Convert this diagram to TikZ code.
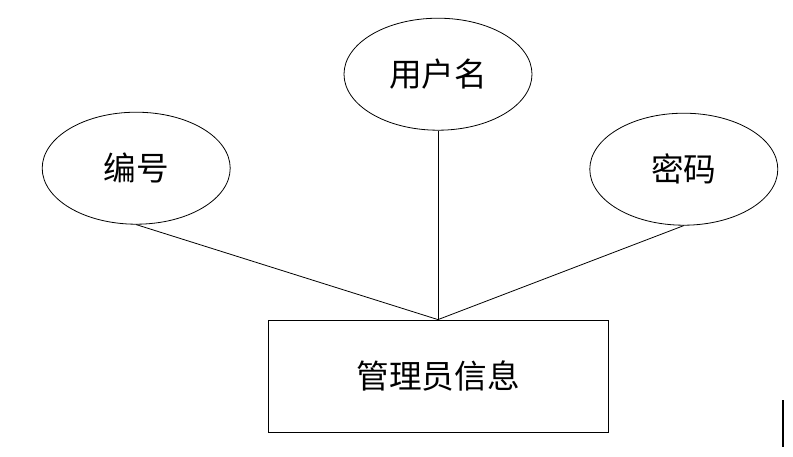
\documentclass[tikz,border=0pt]{standalone}
\usepackage{fontspec}
\newfontfamily\cjk{Noto Sans CJK SC}
\usepackage{tikz}
\usetikzlibrary{shapes.geometric, positioning}

\begin{document}
\begin{tikzpicture}[
    x=0.75pt, y=0.75pt,
    every node/.style={font=\cjk\fontsize{24.5}{27}\selectfont, align=center},
    entity/.style={rectangle, draw=black, line width=0.6pt, minimum width=255pt, minimum height=84pt, inner sep=0pt},
    attr/.style={ellipse, draw=black, line width=0.6pt, minimum width=141pt, minimum height=84pt, inner sep=0pt},
    link/.style={draw=black, line width=0.6pt}
]
\useasboundingbox (0,0) rectangle (793,-457);

% entity and its attributes
\node[entity] (guanli) at (438,-376) {管理员信息};
\node[attr, above=141.75pt of guanli] (yonghuming) {用户名};
\node[attr, left=84.75pt of yonghuming, yshift=-70.5pt] (bianhao) {编号};
\node[attr, right=42.75pt of yonghuming, yshift=-71.25pt] (mima) {密码};

% connectors
\draw[link] (bianhao.south) -- (guanli.north);
\draw[link] (yonghuming.south) -- (guanli.north);
\draw[link] (mima.south) -- (guanli.north);

% mark at the lower right
\draw[line width=1.5pt] (783,-400) -- (783,-447);

\end{tikzpicture}
\end{document}
